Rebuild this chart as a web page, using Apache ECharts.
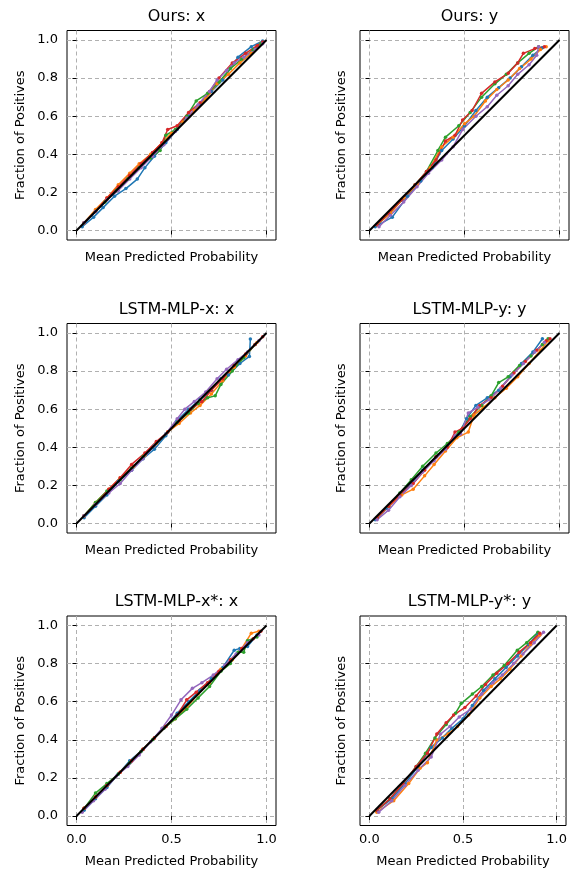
<!DOCTYPE html>
<html>
<head>
<meta charset="utf-8">
<script src="https://cdn.jsdelivr.net/npm/echarts@6/dist/echarts.min.js"></script>
<style>
  html, body { margin: 0; padding: 0; background: #fff; }
  #chart { width: 570px; height: 873px; }
</style>
</head>
<body>
<div id="chart"></div>
<script>
// Reliability curves: five runs per panel (tab10 colours) against the perfect-calibration diagonal.
const panelTitles = ['Ours: x', 'Ours: y', 'LSTM-MLP-x: x', 'LSTM-MLP-y: y', 'LSTM-MLP-x*: x', 'LSTM-MLP-y*: y'];
const runColors = ['#1f77b4', '#ff7f0e', '#2ca02c', '#d62728', '#9467bd'];
const xTicks = [0, 0.5, 1];
const yTicks = [0, 0.2, 0.4, 0.6, 0.8, 1];
const xLabel = 'Mean Predicted Probability';
const yLabel = 'Fraction of Positives';

// Mean predicted probability (per run) and observed fraction of positives (per run)
const oursX_pred = [
  [0.03,0.09,0.14,0.20,0.26,0.32,0.36,0.41,0.47,0.53,0.59,0.65,0.71,0.77,0.85,0.92,0.98],
  [0.04,0.10,0.16,0.22,0.28,0.33,0.39,0.45,0.50,0.56,0.62,0.68,0.74,0.80,0.86,0.92,0.97],
  [0.04,0.10,0.15,0.21,0.27,0.33,0.39,0.44,0.47,0.52,0.58,0.63,0.69,0.75,0.81,0.87,0.93,0.97],
  [0.04,0.10,0.16,0.22,0.28,0.34,0.40,0.45,0.48,0.53,0.59,0.65,0.70,0.75,0.82,0.89,0.95,0.98],
  [0.04,0.10,0.16,0.22,0.28,0.34,0.40,0.46,0.52,0.58,0.64,0.70,0.74,0.79,0.83,0.88,0.94,0.98]
];
const oursX_frac = [
  [0.02,0.07,0.12,0.18,0.22,0.27,0.33,0.39,0.46,0.53,0.60,0.66,0.73,0.79,0.91,0.965,0.995],
  [0.04,0.11,0.17,0.24,0.30,0.35,0.40,0.46,0.51,0.57,0.63,0.69,0.77,0.82,0.88,0.93,0.98],
  [0.04,0.10,0.15,0.21,0.27,0.33,0.38,0.42,0.50,0.53,0.60,0.68,0.72,0.78,0.85,0.90,0.95,0.98],
  [0.04,0.10,0.17,0.23,0.29,0.35,0.41,0.46,0.53,0.55,0.62,0.67,0.73,0.80,0.88,0.93,0.97,0.99],
  [0.04,0.10,0.16,0.21,0.27,0.33,0.39,0.45,0.52,0.59,0.66,0.73,0.79,0.84,0.88,0.91,0.95,0.98]
];

const oursY_pred = [
  [0.03,0.12,0.20,0.27,0.33,0.38,0.44,0.50,0.56,0.62,0.68,0.74,0.80,0.86,0.91],
  [0.04,0.11,0.18,0.25,0.32,0.38,0.44,0.50,0.55,0.61,0.67,0.73,0.79,0.85,0.90,0.93],
  [0.04,0.10,0.17,0.24,0.30,0.36,0.40,0.47,0.53,0.59,0.66,0.72,0.78,0.84,0.89],
  [0.04,0.10,0.17,0.24,0.30,0.35,0.40,0.45,0.49,0.54,0.59,0.66,0.73,0.78,0.81,0.87,0.92],
  [0.05,0.11,0.18,0.25,0.31,0.38,0.44,0.49,0.56,0.62,0.67,0.73,0.78,0.84,0.88,0.89]
];
const oursY_frac = [
  [0.02,0.07,0.18,0.26,0.33,0.42,0.48,0.55,0.63,0.70,0.75,0.80,0.86,0.92,0.96],
  [0.03,0.09,0.17,0.24,0.33,0.44,0.49,0.56,0.60,0.68,0.74,0.79,0.85,0.90,0.95,0.965],
  [0.03,0.09,0.16,0.24,0.31,0.42,0.49,0.55,0.62,0.70,0.77,0.82,0.88,0.93,0.965],
  [0.03,0.09,0.16,0.24,0.31,0.37,0.47,0.50,0.58,0.63,0.72,0.78,0.825,0.88,0.93,0.955,0.965],
  [0.02,0.08,0.15,0.23,0.30,0.37,0.44,0.53,0.60,0.65,0.71,0.76,0.82,0.87,0.92,0.965]
];

const lstmX_pred = [
  [0.04,0.10,0.16,0.22,0.29,0.35,0.41,0.47,0.53,0.59,0.65,0.71,0.76,0.80,0.86,0.91,0.915],
  [0.04,0.10,0.17,0.23,0.30,0.36,0.42,0.48,0.54,0.60,0.65,0.71,0.77,0.83,0.89,0.95],
  [0.04,0.10,0.16,0.23,0.29,0.35,0.41,0.47,0.53,0.59,0.64,0.69,0.73,0.76,0.82,0.88,0.94],
  [0.04,0.10,0.17,0.23,0.29,0.36,0.42,0.48,0.54,0.60,0.66,0.71,0.77,0.83,0.89,0.94,0.98],
  [0.04,0.10,0.17,0.23,0.29,0.35,0.41,0.47,0.53,0.57,0.62,0.68,0.74,0.79,0.85,0.90,0.96]
];
const lstmX_frac = [
  [0.03,0.09,0.15,0.22,0.28,0.34,0.39,0.46,0.54,0.60,0.65,0.70,0.76,0.78,0.84,0.877,0.968],
  [0.04,0.11,0.18,0.24,0.30,0.36,0.42,0.48,0.525,0.58,0.62,0.68,0.75,0.82,0.88,0.95],
  [0.04,0.11,0.17,0.23,0.29,0.35,0.41,0.47,0.53,0.58,0.63,0.66,0.67,0.73,0.80,0.87,0.94],
  [0.04,0.10,0.18,0.24,0.31,0.37,0.43,0.48,0.54,0.60,0.64,0.70,0.76,0.83,0.89,0.94,0.98],
  [0.04,0.10,0.16,0.21,0.28,0.34,0.41,0.47,0.55,0.60,0.64,0.69,0.76,0.81,0.86,0.90,0.96]
];

const lstmY_pred = [
  [0.03,0.09,0.16,0.22,0.28,0.35,0.41,0.47,0.51,0.56,0.62,0.68,0.74,0.80,0.86,0.91],
  [0.04,0.10,0.17,0.23,0.29,0.34,0.40,0.46,0.52,0.55,0.60,0.66,0.72,0.78,0.84,0.90,0.94],
  [0.04,0.10,0.16,0.22,0.28,0.35,0.41,0.47,0.53,0.59,0.64,0.68,0.73,0.79,0.85,0.91,0.94],
  [0.04,0.10,0.16,0.23,0.29,0.35,0.41,0.45,0.49,0.53,0.58,0.64,0.70,0.76,0.82,0.88,0.93,0.95],
  [0.04,0.10,0.16,0.22,0.28,0.34,0.40,0.45,0.48,0.52,0.57,0.63,0.69,0.75,0.81,0.87,0.92]
];
const lstmY_frac = [
  [0.02,0.08,0.15,0.21,0.28,0.35,0.41,0.47,0.55,0.62,0.66,0.70,0.77,0.84,0.90,0.97],
  [0.03,0.09,0.15,0.18,0.25,0.31,0.38,0.45,0.48,0.57,0.61,0.66,0.71,0.77,0.84,0.91,0.96],
  [0.03,0.09,0.16,0.23,0.30,0.37,0.42,0.48,0.56,0.62,0.67,0.74,0.77,0.83,0.88,0.94,0.97],
  [0.03,0.09,0.15,0.21,0.28,0.35,0.40,0.48,0.50,0.55,0.62,0.66,0.72,0.79,0.85,0.91,0.96,0.97],
  [0.02,0.07,0.14,0.20,0.27,0.33,0.39,0.46,0.47,0.58,0.61,0.65,0.71,0.78,0.84,0.90,0.95]
];

const lstmXs_pred = [
  [0.04,0.10,0.16,0.22,0.28,0.35,0.41,0.47,0.53,0.59,0.65,0.71,0.77,0.83,0.86,0.90,0.95],
  [0.04,0.10,0.16,0.23,0.29,0.35,0.41,0.47,0.52,0.58,0.64,0.70,0.76,0.82,0.87,0.92,0.96],
  [0.04,0.10,0.16,0.22,0.28,0.34,0.40,0.46,0.52,0.58,0.64,0.70,0.76,0.81,0.85,0.88,0.90,0.95],
  [0.04,0.10,0.16,0.23,0.29,0.35,0.41,0.47,0.53,0.58,0.63,0.69,0.75,0.81,0.87,0.93,0.97],
  [0.03,0.09,0.15,0.21,0.27,0.33,0.39,0.45,0.50,0.55,0.61,0.66,0.72,0.78,0.84,0.90,0.96]
];
const lstmXs_frac = [
  [0.03,0.09,0.15,0.22,0.29,0.35,0.41,0.47,0.54,0.60,0.66,0.72,0.78,0.87,0.88,0.89,0.95],
  [0.04,0.10,0.16,0.23,0.29,0.35,0.41,0.47,0.51,0.57,0.64,0.70,0.77,0.82,0.88,0.96,0.97],
  [0.04,0.12,0.17,0.22,0.28,0.34,0.40,0.46,0.51,0.56,0.62,0.68,0.76,0.80,0.86,0.86,0.92,0.94],
  [0.04,0.10,0.16,0.23,0.29,0.35,0.41,0.47,0.53,0.61,0.65,0.70,0.76,0.82,0.88,0.93,0.97],
  [0.02,0.08,0.14,0.21,0.26,0.32,0.39,0.46,0.53,0.61,0.67,0.70,0.74,0.79,0.85,0.91,0.95]
];

const lstmYs_pred = [
  [0.04,0.12,0.19,0.26,0.33,0.39,0.44,0.50,0.55,0.61,0.67,0.73,0.79,0.85,0.90],
  [0.04,0.13,0.21,0.27,0.31,0.36,0.42,0.47,0.53,0.59,0.65,0.70,0.75,0.81,0.86,0.91],
  [0.04,0.11,0.18,0.25,0.30,0.35,0.41,0.46,0.49,0.55,0.60,0.66,0.72,0.79,0.84,0.90],
  [0.04,0.11,0.18,0.25,0.31,0.36,0.41,0.45,0.51,0.57,0.62,0.68,0.74,0.80,0.86,0.91],
  [0.05,0.12,0.19,0.26,0.33,0.38,0.43,0.48,0.54,0.60,0.66,0.71,0.77,0.82,0.88,0.93]
];
const lstmYs_frac = [
  [0.03,0.09,0.17,0.26,0.36,0.41,0.46,0.51,0.58,0.66,0.72,0.78,0.84,0.90,0.96],
  [0.02,0.08,0.17,0.25,0.28,0.40,0.43,0.47,0.53,0.62,0.68,0.72,0.77,0.84,0.90,0.95],
  [0.03,0.09,0.17,0.26,0.33,0.41,0.48,0.54,0.59,0.64,0.68,0.74,0.79,0.87,0.91,0.965],
  [0.03,0.09,0.17,0.26,0.33,0.43,0.49,0.53,0.57,0.63,0.69,0.75,0.80,0.86,0.91,0.96],
  [0.02,0.08,0.16,0.24,0.31,0.43,0.47,0.52,0.56,0.64,0.70,0.74,0.80,0.85,0.91,0.965]
];

const panelPred = [oursX_pred, oursY_pred, lstmX_pred, lstmY_pred, lstmXs_pred, lstmYs_pred];
const panelFrac = [oursX_frac, oursY_frac, lstmX_frac, lstmY_frac, lstmXs_frac, lstmYs_frac];
const diagonal = [[0, 0], [1, 1]];

// Panel boxes (pixels): two columns, three rows
const colLeft = [67, 360];
const rowTop = [30.5, 323.5, 616];
const boxW = 209, boxH = 209.5;

const FONT = 'DejaVu Sans';
const grids = [], xAxes = [], yAxes = [], titles = [], series = [];

for (let p = 0; p < 6; p++) {
  const col = p % 2, row = Math.floor(p / 2);
  const left = colLeft[col], top = rowTop[row];
  const bottomRow = row === 2;
  grids.push({
    left: left, top: top, width: boxW, height: boxH,
    show: true, borderColor: '#000', borderWidth: 1, backgroundColor: 'transparent',
    containLabel: false
  });
  titles.push({
    text: panelTitles[p],
    left: left + boxW / 2, top: top - 28,
    textAlign: 'center',
    textStyle: { fontFamily: FONT, fontSize: 16, fontWeight: 'normal', color: '#000', lineHeight: 18 }
  });
  xAxes.push({
    type: 'value', gridIndex: p, min: -0.05, max: 1.05,
    name: xLabel, nameLocation: 'middle', nameGap: bottomRow ? 30 : 11,
    nameTextStyle: { fontFamily: FONT, fontSize: 13, color: '#000' },
    axisLine: { show: false },
    axisTick: { show: true, length: 4, customValues: xTicks, lineStyle: { color: '#000', width: 1 } },
    axisLabel: { show: bottomRow, customValues: xTicks, margin: 8, fontFamily: FONT, fontSize: 13, color: '#000',
                 formatter: v => v.toFixed(1) },
    splitLine: { show: true, lineStyle: { color: '#b0b0b0', width: 1, type: [4, 3] } }
  });
  yAxes.push({
    type: 'value', gridIndex: p, min: -0.05, max: 1.05,
    name: yLabel, nameLocation: 'middle', nameGap: col === 0 ? 40 : 12, nameRotate: 90,
    nameTextStyle: { fontFamily: FONT, fontSize: 13, color: '#000' },
    axisLine: { show: false },
    axisTick: { show: true, length: 4, customValues: yTicks, lineStyle: { color: '#000', width: 1 } },
    axisLabel: { show: col === 0, customValues: yTicks, margin: 9, fontFamily: FONT, fontSize: 13, color: '#000',
                 formatter: v => v.toFixed(1) },
    splitLine: { show: true, lineStyle: { color: '#b0b0b0', width: 1, type: [4, 3] } }
  });

  const preds = panelPred[p], fracs = panelFrac[p];
  for (let r = 0; r < preds.length; r++) {
    series.push({
      type: 'line', xAxisIndex: p, yAxisIndex: p,
      data: preds[r].map((x, i) => [x, fracs[r][i]]),
      symbol: 'circle', symbolSize: 3.5, showSymbol: true,
      lineStyle: { color: runColors[r], width: 1.5 },
      itemStyle: { color: runColors[r] },
      z: 3, silent: true
    });
  }
  series.push({
    type: 'line', xAxisIndex: p, yAxisIndex: p,
    data: diagonal, symbol: 'none',
    lineStyle: { color: '#000', width: 2 },
    z: 4, silent: true
  });
}

const chart = echarts.init(document.getElementById('chart'), null, { renderer: 'canvas' });
chart.setOption({
  animation: false,
  backgroundColor: '#fff',
  title: titles,
  grid: grids,
  xAxis: xAxes,
  yAxis: yAxes,
  series: series
});
</script>
</body>
</html>
